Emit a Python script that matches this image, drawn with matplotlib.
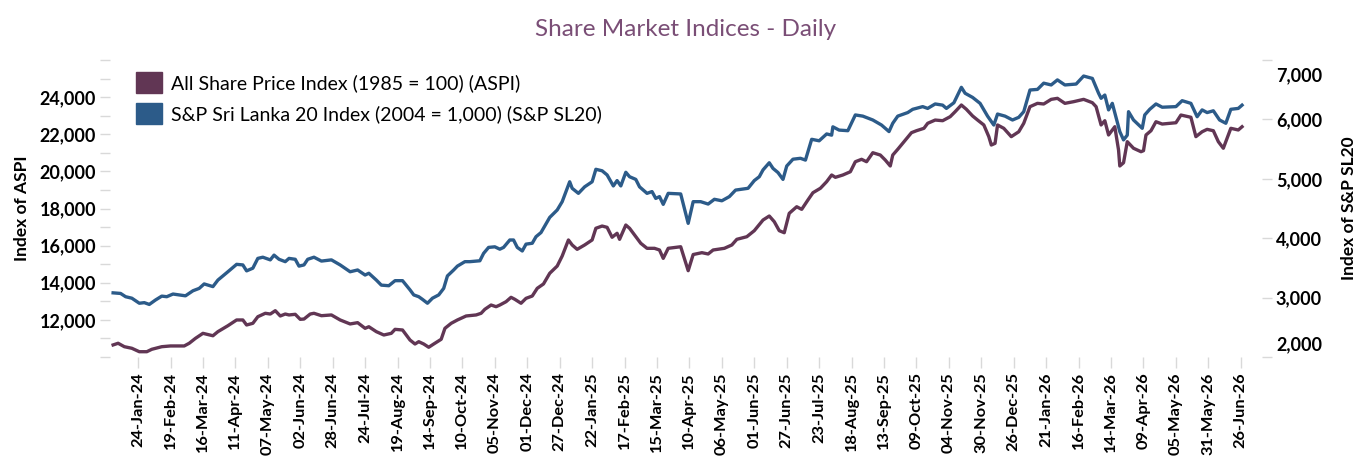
import pandas as pd
import matplotlib
matplotlib.use('Agg')
import matplotlib.pyplot as plt
import matplotlib.dates as mdates
import matplotlib.ticker as mticker
from matplotlib.patches import Patch
from matplotlib.transforms import ScaledTranslation

plt.rcParams['font.family'] = ['Lato', 'DejaVu Sans']

# ASPI, left axis
aspi_dates = ['2024-01-04', '2024-01-08', '2024-01-13', '2024-01-19', '2024-01-25', '2024-01-31',
              '2024-02-04', '2024-02-12', '2024-02-19', '2024-03-01', '2024-03-05', '2024-03-10',
              '2024-03-16', '2024-03-24', '2024-03-28', '2024-04-05', '2024-04-12', '2024-04-17',
              '2024-04-20', '2024-04-25', '2024-04-29', '2024-05-05', '2024-05-09', '2024-05-13',
              '2024-05-17', '2024-05-21', '2024-05-24', '2024-05-29', '2024-06-02', '2024-06-05',
              '2024-06-10', '2024-06-13', '2024-06-19', '2024-06-27', '2024-07-04', '2024-07-12',
              '2024-07-18', '2024-07-24', '2024-07-27', '2024-08-02', '2024-08-08', '2024-08-14',
              '2024-08-17', '2024-08-23', '2024-08-29', '2024-09-02', '2024-09-05', '2024-09-09',
              '2024-09-13', '2024-09-17', '2024-09-23', '2024-09-26', '2024-10-01', '2024-10-06',
              '2024-10-09', '2024-10-13', '2024-10-21', '2024-10-25', '2024-10-28', '2024-11-02',
              '2024-11-06', '2024-11-09', '2024-11-14', '2024-11-18', '2024-11-21', '2024-11-26',
              '2024-11-30', '2024-12-05', '2024-12-09', '2024-12-14', '2024-12-19', '2024-12-25',
              '2024-12-29', '2025-01-03', '2025-01-06', '2025-01-10', '2025-01-16', '2025-01-22',
              '2025-01-25', '2025-01-30', '2025-02-03', '2025-02-07', '2025-02-11', '2025-02-13',
              '2025-02-18', '2025-02-21', '2025-02-26', '2025-03-02', '2025-03-07', '2025-03-13',
              '2025-03-17', '2025-03-20', '2025-03-24', '2025-04-03', '2025-04-09', '2025-04-13',
              '2025-04-20', '2025-04-25', '2025-04-29', '2025-05-08', '2025-05-14', '2025-05-18',
              '2025-05-26', '2025-06-01', '2025-06-08', '2025-06-13', '2025-06-17', '2025-06-21',
              '2025-06-25', '2025-06-29', '2025-07-05', '2025-07-09', '2025-07-14', '2025-07-18',
              '2025-07-24', '2025-07-29', '2025-08-02', '2025-08-05', '2025-08-11', '2025-08-17',
              '2025-08-21', '2025-08-26', '2025-08-30', '2025-09-04', '2025-09-10', '2025-09-14',
              '2025-09-18', '2025-09-20', '2025-09-24', '2025-09-29', '2025-10-05', '2025-10-09',
              '2025-10-15', '2025-10-18', '2025-10-24', '2025-10-30', '2025-11-05', '2025-11-09',
              '2025-11-14', '2025-11-18', '2025-11-23', '2025-11-27', '2025-12-02', '2025-12-06',
              '2025-12-08', '2025-12-11', '2025-12-13', '2025-12-18', '2025-12-24', '2025-12-30',
              '2026-01-03', '2026-01-08', '2026-01-14', '2026-01-19', '2026-01-25', '2026-01-30',
              '2026-02-05', '2026-02-12', '2026-02-20', '2026-02-27', '2026-03-02', '2026-03-06',
              '2026-03-09', '2026-03-12', '2026-03-17', '2026-03-20', '2026-03-21', '2026-03-24',
              '2026-03-27', '2026-04-01', '2026-04-07', '2026-04-09', '2026-04-11', '2026-04-15',
              '2026-04-19', '2026-04-24', '2026-05-05', '2026-05-09', '2026-05-17', '2026-05-21',
              '2026-05-26', '2026-05-30', '2026-06-04', '2026-06-08', '2026-06-12', '2026-06-18',
              '2026-06-24', '2026-06-27']
aspi_values = [10650, 10740, 10555, 10470, 10285, 10285,
               10415, 10555, 10595, 10595, 10740, 11005,
               11275, 11145, 11365, 11685, 11995, 11995,
               11725, 11815, 12170, 12355, 12315, 12495,
               12210, 12315, 12265, 12300, 12030, 12045,
               12315, 12355, 12225, 12265, 11995, 11780,
               11850, 11545, 11630, 11365, 11185, 11275,
               11490, 11455, 10915, 10700, 10825, 10700,
               10525, 10700, 10955, 11545, 11815, 11995,
               12085, 12210, 12265, 12355, 12570, 12800,
               12710, 12800, 12980, 13215, 13110, 12895,
               13160, 13285, 13700, 13935, 14510, 14900,
               15440, 16305, 16035, 15800, 16035, 16305,
               16935, 17055, 16985, 16450, 16665, 16340,
               17110, 16935, 16480, 16125, 15855, 15855,
               15765, 15315, 15855, 15940, 14650, 15520,
               15620, 15550, 15765, 15855, 16035, 16340,
               16480, 16805, 17380, 17595, 17290, 16805,
               16695, 17740, 18095, 17955, 18460, 18850,
               19090, 19445, 19805, 19680, 19805, 19980,
               20520, 20650, 20520, 21005, 20880, 20610,
               20290, 20880, 21190, 21600, 22085, 22190,
               22320, 22590, 22765, 22730, 22945, 23215,
               23575, 23345, 22985, 22765, 22500, 21870,
               21420, 21510, 22500, 22320, 21870, 22135,
               22590, 23485, 23665, 23630, 23880, 23935,
               23665, 23755, 23880, 23700, 23485, 22500,
               22730, 21960, 22405, 21150, 20290, 20465,
               21600, 21245, 21060, 21115, 21960, 22190,
               22675, 22550, 22620, 23035, 22915, 21870,
               22135, 22265, 22190, 21600, 21245, 22320,
               22230, 22405]

# S&P SL20, right axis
sl20_dates = ['2024-01-04', '2024-01-10', '2024-01-14', '2024-01-19', '2024-01-25', '2024-01-29',
              '2024-02-02', '2024-02-07', '2024-02-12', '2024-02-16', '2024-02-21', '2024-03-02',
              '2024-03-08', '2024-03-13', '2024-03-17', '2024-03-24', '2024-03-28', '2024-04-05',
              '2024-04-12', '2024-04-17', '2024-04-20', '2024-04-25', '2024-04-29', '2024-05-03',
              '2024-05-09', '2024-05-12', '2024-05-16', '2024-05-21', '2024-05-24', '2024-05-29',
              '2024-06-01', '2024-06-05', '2024-06-08', '2024-06-13', '2024-06-19', '2024-06-27',
              '2024-07-04', '2024-07-12', '2024-07-18', '2024-07-24', '2024-07-27', '2024-08-02',
              '2024-08-06', '2024-08-12', '2024-08-17', '2024-08-23', '2024-08-29', '2024-09-01',
              '2024-09-05', '2024-09-08', '2024-09-12', '2024-09-16', '2024-09-21', '2024-09-25',
              '2024-09-28', '2024-10-03', '2024-10-06', '2024-10-12', '2024-10-16', '2024-10-24',
              '2024-10-27', '2024-10-31', '2024-11-05', '2024-11-09', '2024-11-12', '2024-11-17',
              '2024-11-20', '2024-11-23', '2024-11-27', '2024-11-30', '2024-12-05', '2024-12-08',
              '2024-12-12', '2024-12-19', '2024-12-25', '2024-12-29', '2025-01-04', '2025-01-06',
              '2025-01-11', '2025-01-16', '2025-01-22', '2025-01-25', '2025-01-30', '2025-02-03',
              '2025-02-08', '2025-02-11', '2025-02-14', '2025-02-18', '2025-02-21', '2025-02-26',
              '2025-03-01', '2025-03-07', '2025-03-11', '2025-03-14', '2025-03-17', '2025-03-20',
              '2025-03-24', '2025-04-03', '2025-04-09', '2025-04-13', '2025-04-19', '2025-04-25',
              '2025-04-30', '2025-05-06', '2025-05-12', '2025-05-17', '2025-05-27', '2025-06-01',
              '2025-06-05', '2025-06-08', '2025-06-13', '2025-06-16', '2025-06-20', '2025-06-24',
              '2025-06-27', '2025-07-02', '2025-07-08', '2025-07-12', '2025-07-17', '2025-07-23',
              '2025-07-29', '2025-08-02', '2025-08-03', '2025-08-08', '2025-08-15', '2025-08-21',
              '2025-08-27', '2025-09-04', '2025-09-11', '2025-09-17', '2025-09-20', '2025-09-24',
              '2025-10-02', '2025-10-06', '2025-10-14', '2025-10-18', '2025-10-24', '2025-10-30',
              '2025-11-02', '2025-11-08', '2025-11-14', '2025-11-17', '2025-11-23', '2025-11-29',
              '2025-12-05', '2025-12-10', '2025-12-13', '2025-12-19', '2025-12-25', '2025-12-30',
              '2026-01-03', '2026-01-08', '2026-01-14', '2026-01-19', '2026-01-25', '2026-01-30',
              '2026-02-05', '2026-02-14', '2026-02-20', '2026-02-27', '2026-03-04', '2026-03-06',
              '2026-03-09', '2026-03-12', '2026-03-15', '2026-03-21', '2026-03-24', '2026-03-27',
              '2026-03-28', '2026-04-01', '2026-04-08', '2026-04-10', '2026-04-14', '2026-04-19',
              '2026-04-24', '2026-05-05', '2026-05-10', '2026-05-17', '2026-05-22', '2026-05-26',
              '2026-05-30', '2026-06-04', '2026-06-09', '2026-06-14', '2026-06-18', '2026-06-24',
              '2026-06-27']
sl20_values = [3080, 3070, 3015, 2990, 2905, 2915,
               2885, 2960, 3025, 3015, 3060, 3030,
               3115, 3155, 3230, 3185, 3295, 3435,
               3560, 3550, 3450, 3495, 3660, 3680,
               3635, 3715, 3645, 3605, 3660, 3645,
               3530, 3550, 3645, 3680, 3615, 3635,
               3550, 3435, 3465, 3380, 3410, 3295,
               3210, 3200, 3285, 3285, 3130, 3045,
               3015, 2970, 2905, 2990, 3045, 3155,
               3365, 3465, 3530, 3605, 3605, 3620,
               3745, 3845, 3855, 3815, 3845, 3970,
               3970, 3845, 3785, 3900, 3915, 4025,
               4095, 4350, 4475, 4615, 4950, 4840,
               4755, 4865, 4950, 5160, 5135, 5065,
               4880, 4970, 4880, 5110, 5035, 4990,
               4865, 4755, 4785, 4670, 4700, 4570,
               4755, 4745, 4250, 4615, 4615, 4575,
               4655, 4630, 4700, 4810, 4840, 4970,
               5035, 5150, 5270, 5175, 5105, 4990,
               5215, 5330, 5345, 5315, 5665, 5640,
               5755, 5735, 5875, 5820, 5810, 6075,
               6055, 5990, 5905, 5795, 5935, 6055,
               6115, 6170, 6215, 6185, 6260, 6240,
               6185, 6280, 6540, 6440, 6370, 6270,
               6055, 5905, 6090, 6055, 5990, 6035,
               6130, 6495, 6505, 6610, 6580, 6665,
               6580, 6595, 6730, 6690, 6440, 6355,
               6410, 6160, 6270, 5795, 5655, 5735,
               6130, 5990, 5850, 6075, 6170, 6260,
               6205, 6215, 6315, 6270, 6045, 6160,
               6115, 6145, 5990, 5935, 6170, 6185,
               6240]

aspi_label = 'All Share Price Index (1985 = 100) (ASPI)'
sl20_label = 'S&P Sri Lanka 20 Index (2004 = 1,000) (S&P SL20)'

aspi_color = '#613654'
sl20_color = '#2c5b89'
tick_gray = '#d9d9d9'

fig = plt.figure(figsize=(13.6, 4.58), dpi=100)
ax = fig.add_axes([110/1360, 1 - 357/458, 1152/1360, 297/458])
ax2 = ax.twinx()

ax.plot(pd.to_datetime(aspi_dates), aspi_values, color=aspi_color, lw=2.4)
ax2.plot(pd.to_datetime(sl20_dates), sl20_values, color=sl20_color, lw=2.4)

# x axis: a tick every 26 days
xticks = pd.date_range('2024-01-24', '2026-06-26', freq='26D')
ax.set_xticks(xticks)
ax.xaxis.set_major_formatter(mdates.DateFormatter('%d-%b-%y'))
ax.set_xlim(pd.Timestamp('2024-01-01 12:00'), pd.Timestamp('2026-07-13'))
ax.tick_params(axis='x', labelsize=11.8, length=8, pad=3)
for lab in ax.get_xticklabels():
    lab.set_rotation(90)
    lab.set_fontweight('bold')

# left axis
ax.set_ylim(10000, 26000)
ax.yaxis.set_major_locator(mticker.MultipleLocator(1000))
ax.yaxis.set_major_formatter(mticker.FuncFormatter(
    lambda v, p: f'{v:,.0f}' if 12000 <= v <= 24000 and v % 2000 == 0 else ''))

# right axis
ax2.set_ylim(2000, 7000)
ax2.yaxis.set_major_locator(mticker.MultipleLocator(1000))
ax2.yaxis.set_major_formatter(mticker.FuncFormatter(lambda v, p: f'{v:,.0f}'))

for a in (ax, ax2):
    for s in a.spines.values():
        s.set_visible(False)
    a.tick_params(axis='both', direction='out', width=1, color=tick_gray, labelcolor='black')
    a.tick_params(axis='y', length=7, labelsize=13, pad=3)
    for lab in a.get_yticklabels():
        lab.set_fontweight('bold')

# end labels on the right axis are nudged inward like in the original
for lab in ax2.get_yticklabels():
    if lab.get_text() == '7,000':
        lab.set_transform(lab.get_transform() + ScaledTranslation(0, -0.14, fig.dpi_scale_trans))
    elif lab.get_text() == '2,000':
        lab.set_transform(lab.get_transform() + ScaledTranslation(0, 0.14, fig.dpi_scale_trans))

ax.set_ylabel('Index of ASPI', fontsize=12.5, fontweight='bold', labelpad=7)
ax2.set_ylabel('Index of S&P SL20', fontsize=12.5, fontweight='bold', labelpad=14)

fig.text(0.504, 0.935, 'Share Market Indices - Daily', ha='center', va='center',
         fontsize=17.5, color='#7a4e76')

handles = [Patch(color=aspi_color, label=aspi_label), Patch(color=sl20_color, label=sl20_label)]
ax.legend(handles=handles, loc='upper left', bbox_to_anchor=(0.023, 0.96), frameon=False,
          fontsize=14, handlelength=1.3, handleheight=1.3, handletextpad=0.5,
          labelspacing=0.5, borderpad=0, borderaxespad=0)

fig.savefig('out.png', dpi=100)
